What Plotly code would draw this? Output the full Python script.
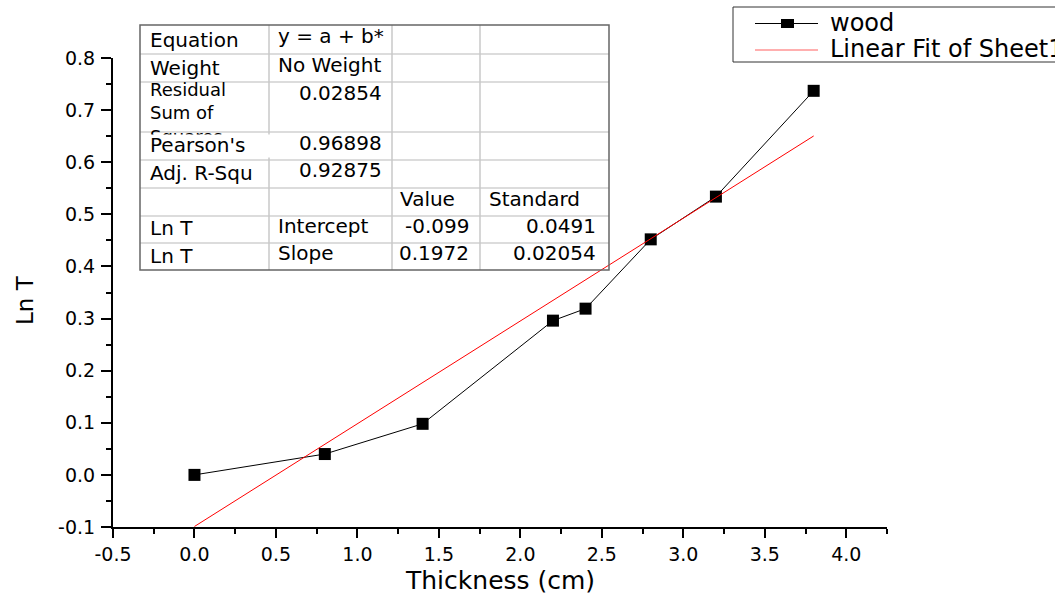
import plotly.graph_objects as go

# ---------------- data ----------------
thickness = [0.0, 0.8, 1.4, 2.2, 2.4, 2.8, 3.2, 3.8]
ln_t = [0.0, 0.040, 0.098, 0.296, 0.319, 0.452, 0.534, 0.737]

fit_intercept = -0.099
fit_slope = 0.1972
fit_x = [0.0, 3.8]
fit_y = [fit_intercept + fit_slope * v for v in fit_x]

x_ticks = [-0.5, 0.0, 0.5, 1.0, 1.5, 2.0, 2.5, 3.0, 3.5, 4.0]
y_ticks = [-0.1, 0.0, 0.1, 0.2, 0.3, 0.4, 0.5, 0.6, 0.7, 0.8]

series_names = ["wood", "Linear Fit of Sheet1 B"]

# fit report table (rows of text)
tbl_col0 = ["Equation", "Weight", "Residual<br>Sum of<br>Squares", "Pearson's", "Adj. R-Squ", "", "Ln T", "Ln T"]
tbl_col1 = ["y = a + b*", "No Weight", "0.02854", "0.96898", "0.92875", "", "Intercept", "Slope"]
tbl_col2 = ["", "", "", "", "", "Value", "-0.099", "0.1972"]
tbl_col3 = ["", "", "", "", "", "Standard", "0.0491", "0.02054"]

# ---------------- layout helpers (pixel -> paper) ----------------
W, H = 1055, 598
L, R, T, B = 113, 887, 58, 527


def PX(px):
    return (px - L) / (R - L)


def PY(py):
    return (B - py) / (B - T)


FONT = "DejaVu Sans"

fig = go.Figure()
fig.add_trace(go.Scatter(
    x=thickness, y=ln_t, mode="lines+markers", name=series_names[0],
    line=dict(color="black", width=1),
    marker=dict(symbol="square", size=12, color="black"),
    showlegend=False,
))
fig.add_trace(go.Scatter(
    x=fit_x, y=fit_y, mode="lines", name=series_names[1],
    line=dict(color="red", width=1), showlegend=False,
))

shapes = []
annotations = []

# ---- table ----
col_edges = [140, 269, 392, 480, 609]
row_edges = [25, 54, 82, 132, 160, 188, 216, 243, 270]
for yy in row_edges[1:-1]:
    shapes.append(dict(type="line", xref="paper", yref="paper",
                       x0=PX(col_edges[0]), x1=PX(col_edges[-1]), y0=PY(yy), y1=PY(yy),
                       line=dict(color="#d0d0d0", width=1.5)))
for xx in col_edges[1:-1]:
    shapes.append(dict(type="line", xref="paper", yref="paper",
                       x0=PX(xx), x1=PX(xx), y0=PY(row_edges[0]), y1=PY(row_edges[-1]),
                       line=dict(color="#c8c8c8", width=1.5)))
shapes.append(dict(type="rect", xref="paper", yref="paper",
                   x0=PX(col_edges[0]), x1=PX(col_edges[-1]),
                   y0=PY(row_edges[0]), y1=PY(row_edges[-1]),
                   line=dict(color="#666666", width=1.5)))

row_y = [40, 68, 113, 145, 173, 199, 228, 256]
col1_y = [36, 65, 93, 143, 170, 199, 226, 253]
col1_align = ["left", "left", "right", "right", "right", "left", "left", "left"]
col2_align = ["right", "right", "right", "right", "right", "left", "right", "right"]
col3_align = ["left", "left", "left", "left", "left", "left", "right", "right"]
TS = 20


def txt(x, y, s, anchor, size=TS):
    annotations.append(dict(xref="paper", yref="paper", x=PX(x), y=PY(y), text=s,
                            showarrow=False, xanchor=anchor, yanchor="middle", align="left",
                            font=dict(family=FONT, size=size, color="black")))


for i in range(len(tbl_col0)):
    if i == 2:
        # three-line label, its last line clipped by the cell below (as in the reference)
        txt(148, row_y[i], tbl_col0[i], "left", size=18)
        annotations.append(dict(xref="paper", yref="paper", x=PX(141), y=PY(133.5),
                                text=" ", showarrow=False, xanchor="left", yanchor="top",
                                width=126, height=20, bgcolor="white",
                                font=dict(family=FONT, size=10)))
    elif tbl_col0[i]:
        txt(148, row_y[i], tbl_col0[i], "left")
    if tbl_col1[i]:
        if col1_align[i] == "left":
            txt(276, col1_y[i], tbl_col1[i], "left")
        else:
            txt(384, col1_y[i], tbl_col1[i], "right")
    if tbl_col2[i]:
        if col2_align[i] == "left":
            txt(398, col1_y[i], tbl_col2[i], "left")
        else:
            txt(471, col1_y[i], tbl_col2[i], "right")
    if tbl_col3[i]:
        if col3_align[i] == "left":
            txt(487, col1_y[i], tbl_col3[i], "left")
        else:
            txt(598, col1_y[i], tbl_col3[i], "right")

# ---- manual legend (clipped at right edge like the reference) ----
shapes.append(dict(type="rect", xref="paper", yref="paper",
                   x0=PX(733), x1=PX(1080), y0=PY(7), y1=PY(62),
                   line=dict(color="#333333", width=1)))
shapes.append(dict(type="line", xref="paper", yref="paper",
                   x0=PX(755), x1=PX(818), y0=PY(23.5), y1=PY(23.5),
                   line=dict(color="black", width=1)))
shapes.append(dict(type="rect", xref="paper", yref="paper",
                   x0=PX(781), x1=PX(794), y0=PY(19), y1=PY(28),
                   fillcolor="black", line=dict(color="black", width=0)))
shapes.append(dict(type="line", xref="paper", yref="paper",
                   x0=PX(755), x1=PX(818), y0=PY(50), y1=PY(50),
                   line=dict(color="#ff6060", width=1.2)))
txt(828, 23, series_names[0], "left", size=24)
txt(828, 49, series_names[1], "left", size=24)

# ---- axis titles ----
annotations.append(dict(xref="paper", yref="paper", x=PX(500), y=PY(580),
                        text="Thickness (cm)", showarrow=False, xanchor="center",
                        yanchor="middle", font=dict(family=FONT, size=25, color="black")))
annotations.append(dict(xref="paper", yref="paper", x=PX(25), y=PY(300),
                        text="Ln T", showarrow=False, xanchor="center", textangle=-90,
                        yanchor="middle", font=dict(family=FONT, size=23, color="black")))

axis_common = dict(
    showline=True, linecolor="black", linewidth=2, mirror=False,
    showgrid=False, zeroline=False,
    ticks="outside", tickcolor="black", tickwidth=2,
    tickfont=dict(family=FONT, size=19, color="black"),
)

fig.update_layout(
    width=W, height=H,
    margin=dict(l=L, r=W - R, t=T, b=H - B, pad=0),
    plot_bgcolor="white", paper_bgcolor="white",
    xaxis=dict(range=[-0.5, 4.25], tickvals=x_ticks,
               ticktext=[f"{v:.1f}" for v in x_ticks], ticklen=9,
               minor=dict(ticks="outside", dtick=0.25, ticklen=5, tickwidth=2, tickcolor="black"),
               **axis_common),
    yaxis=dict(range=[-0.1, 0.8], tickvals=y_ticks,
               ticktext=[f"{v:.1f}" for v in y_ticks], ticklen=10,
               ticklabelstandoff=2,
               minor=dict(ticks="outside", dtick=0.05, ticklen=5, tickwidth=2, tickcolor="black"),
               **axis_common),
    shapes=shapes,
    annotations=annotations,
    showlegend=False,
)

fig.write_html("out.html")
